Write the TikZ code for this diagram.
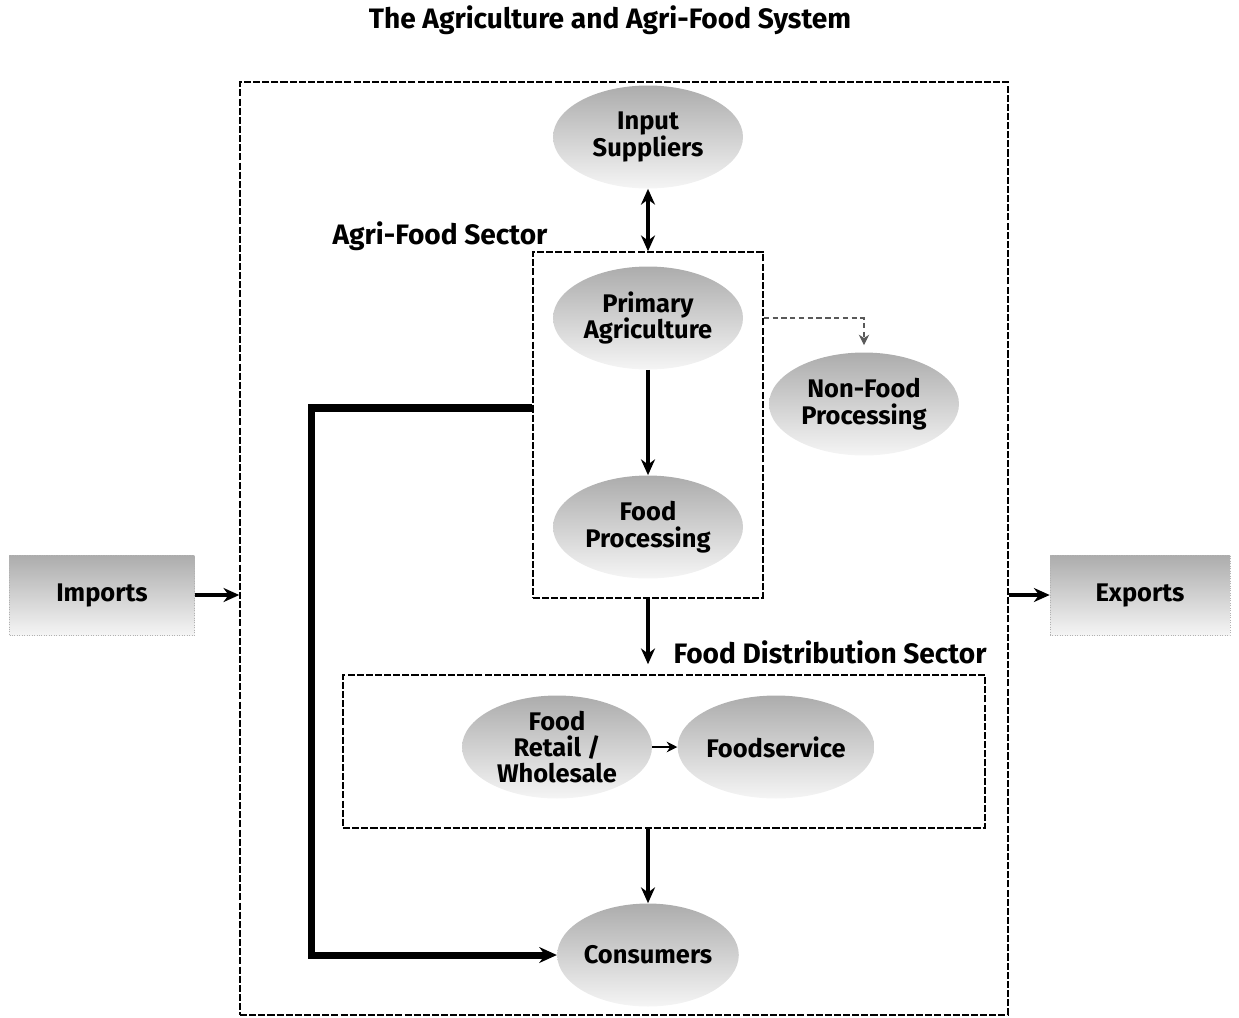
\documentclass[tikz,border=0pt]{standalone}
\usepackage{fontspec}
\setmainfont{Fira Sans}
\usetikzlibrary{shapes.geometric,arrows.meta}

\begin{document}
\begin{tikzpicture}[x=0.02cm, y=-0.02cm,
  every node/.style={font=\bfseries\fontsize{14.5}{15}\selectfont},
  lbl/.style={font=\bfseries\fontsize{16}{18}\selectfont},
  blob/.style={ellipse, inner sep=0pt, minimum width=3.8cm, minimum height=2.06cm,
    top color=gray!65, bottom color=gray!8, align=center},
  tradebox/.style={rectangle, inner sep=0pt, minimum height=1.6cm,
    top color=gray!65, bottom color=gray!8, draw=gray!60, densely dotted},
  sectorbox/.style={rectangle, inner sep=0pt, draw, line width=0.9pt,
    dash pattern=on 4pt off 1.2pt},
  flow/.style={-{Stealth[length=9pt,width=8pt]}, line width=2.4pt},
  bigflow/.style={-{Stealth[length=10pt,width=9pt]}, line width=4pt}]

\useasboundingbox (0,0) rectangle (1239,1017);

\node[lbl] (title) at (610,20) {The Agriculture and Agri-Food System};

% boxes
\node[sectorbox, minimum width=15.36cm, minimum height=18.66cm] (sys) at (624,548.5) {};
\node[sectorbox, minimum width=4.6cm, minimum height=6.92cm] (agri) at (648,425) {};
\node[sectorbox, minimum width=12.84cm, minimum height=3.06cm] (dist) at (664,751.5) {};

\node[lbl] (agrilbl) at (440,236) {Agri-Food Sector};
\node[lbl] (distlbl) at (830,652) {Food Distribution Sector};

% ellipses
\node[blob] (inp) at (648,137) {Input\\Suppliers};
\node[blob] (prim) at (648,318) {Primary\\Agriculture};
\node[blob] (proc) at (648,527) {Food\\Processing};
\node[blob] (nonfood) at (864,404) {Non-Food\\Processing};
\node[blob] (retail) at (557,747) {Food\\Retail /\\Wholesale};
\node[blob] (fserv) at (776,747) {Foodservice};
\node[blob, minimum width=3.6cm] (cons) at (648,955) {Consumers};

\node[tradebox, minimum width=3.7cm] (imp) at (102,595) {Imports};
\node[tradebox, minimum width=3.6cm] (exp) at (1140,595) {Exports};

% flows
\draw[{Stealth[length=9pt,width=8pt]}-{Stealth[length=9pt,width=8pt]}, line width=2.4pt] (inp) -- (agri.north);
\draw[flow] (prim) -- (proc);
\draw[flow, shorten >=0.2cm] (agri.south) -- (agri.south |- dist.north);
\draw[flow] (dist.south -| cons) -- (cons);
\draw[-{Stealth[length=6pt,width=6pt]}, line width=1.2pt] (retail) -- (fserv);
\draw[bigflow] ([yshift=0.34cm]agri.west) -- ++(-221,0) |- (cons.west);
\draw[-{Stealth[length=6pt,width=6pt]}, densely dashed, gray!70!black, line width=0.6pt, shorten >=0.14cm]
  (agri.east |- prim) -| (nonfood.north);
\draw[flow, line width=2pt] (imp) -- (imp -| sys.west);
\draw[flow, line width=2pt] (sys.east |- exp) -- (exp);

\end{tikzpicture}
\end{document}
